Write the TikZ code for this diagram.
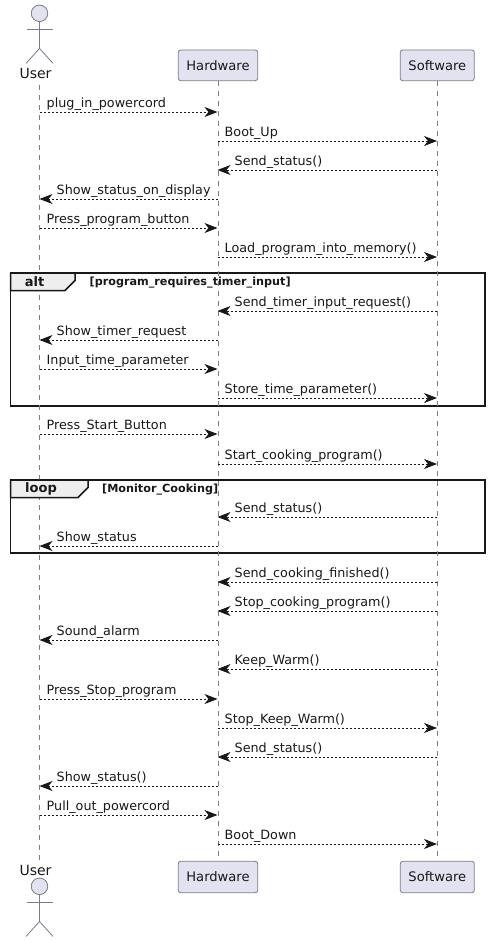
\documentclass[tikz,border=0pt]{standalone}
\usepackage{fontspec}
\setmainfont{DejaVu Sans}
\usetikzlibrary{arrows.meta}
\definecolor{pfill}{HTML}{E2E2F0}
\definecolor{pline}{HTML}{7B7B8A}
\definecolor{tabfill}{HTML}{EEEEEE}
\definecolor{ink}{HTML}{181818}
\tikzset{
  x=1pt,y=-1pt,
  partbox/.style={draw=pline,fill=pfill,line width=0.8pt,rounded corners=2.5pt,inner sep=0pt,font=\fontsize{13.1}{15}\selectfont,text=ink},
  lifeline/.style={draw=pline,line width=0.8pt,dash pattern=on 5pt off 5pt},
  msg/.style={draw=ink,line width=0.8pt,dash pattern=on 2pt off 2pt,-{Stealth[length=13pt,width=10pt,inset=4pt]}},
  msglabel/.style={font=\fontsize{12.75}{15}\selectfont,text=ink,inner sep=0pt,anchor=base west},
  actorlabel/.style={font=\fontsize{14}{16}\selectfont,text=ink,inner sep=0pt,anchor=base},
  actorline/.style={draw=pline,line width=0.8pt},
  framebox/.style={draw=ink,line width=1.5pt},
  tabshape/.style={draw=ink,fill=tabfill,line width=1.5pt},
  framekw/.style={font=\bfseries\fontsize{13}{15}\selectfont,text=ink,inner sep=0pt,anchor=base},
  framecond/.style={font=\bfseries\fontsize{11.2}{13}\selectfont,text=ink,inner sep=0pt,anchor=base west}
}
% \msgR{name}{from x}{to x}{y}{text}
\newcommand{\msgR}[5]{%
  \coordinate (#1a) at (#2,#4); \coordinate (#1b) at (#3,#4);
  \draw[msg] (#1a) -- (#1b);
  \node[msglabel] (#1t) at (#2+7,#4-5) {#5};}
\newcommand{\msgL}[5]{%
  \coordinate (#1a) at (#2,#4); \coordinate (#1b) at (#3,#4);
  \draw[msg] (#1a) -- (#1b);
  \node[msglabel] (#1t) at (#3+17,#4-5) {#5};}
\newcommand{\stickman}[3]{% name, x, head y
  \node[circle,draw=pline,fill=pfill,line width=0.8pt,minimum size=16.5pt,inner sep=0pt] (#1) at (#2,#3) {};
  \draw[actorline] (#1.south) -- ++(0,26.5) -- ++(-13.5,15);
  \draw[actorline] (#1.south) ++(0,26.5) -- ++(13.5,15);
  \draw[actorline] (#2-13,#3+16) -- (#2+13,#3+16);}
\begin{document}
\begin{tikzpicture}
\useasboundingbox (0,0) rectangle (489,942);
\fill[white] (0,0) rectangle (489,942);
\coordinate (ut) at (39.5,85); \coordinate (ub) at (39.5,862);
\node[partbox,minimum width=79.4pt,minimum height=30.7pt] (ht) at (218,65.35) {Hardware};
\node[partbox,minimum width=74pt,minimum height=30.7pt] (st) at (437.3,65.35) {Software};
\node[partbox,minimum width=79.4pt,minimum height=31.4pt] (hb) at (218,877) {Hardware};
\node[partbox,minimum width=74pt,minimum height=31.4pt] (sb) at (437.3,877) {Software};
% frames
\draw[framebox] (10.5,273) rectangle (485,406);
\draw[framebox] (10.5,480) rectangle (485,553);
% lifelines
\draw[lifeline] (ut) -- (ub);
\draw[lifeline] (ht) -- (hb);
\draw[lifeline] (st) -- (sb);
% frame tabs
\draw[tabshape] (10.5,273) -- (75,273) -- (75,280.5) -- (65,290.5) -- (10.5,290.5) -- cycle;
\node[framekw] (altk) at (34.5,286) {alt};
\node[framecond] (altc) at (89.5,285) {[program\_requires\_timer\_input]};
\draw[tabshape] (10.5,480) -- (88,480) -- (88,487.5) -- (78,497.5) -- (10.5,497.5) -- cycle;
\node[framekw] (loopk) at (41,492.5) {loop};
\node[framecond] (loopc) at (102,492) {[Monitor\_Cooking]};
% actors
\stickman{ah}{39.5}{13.3}
\node[actorlabel] (ual) at (35.5,78) {User};
\stickman{af}{39.5}{886.3}
\node[actorlabel] (ubl) at (35.5,875) {User};
% messages
\msgR{m1}{39.5}{217.5}{112}{plug\_in\_powercord}
\msgR{m2}{217.5}{437}{141}{Boot\_Up}
\msgL{m3}{437}{217.5}{170}{Send\_status()}
\msgL{m4}{217.5}{39.5}{199}{Show\_status\_on\_display}
\msgR{m5}{39.5}{217.5}{228}{Press\_program\_button}
\msgR{m6}{217.5}{437}{257}{Load\_program\_into\_memory()}
\msgL{m7}{437}{217.5}{311}{Send\_timer\_input\_request()}
\msgL{m8}{217.5}{39.5}{340}{Show\_timer\_request}
\msgR{m9}{39.5}{217.5}{369}{Input\_time\_parameter}
\msgR{m10}{217.5}{437}{398}{Store\_time\_parameter()}
\msgR{m11}{39.5}{217.5}{434}{Press\_Start\_Button}
\msgR{m12}{217.5}{437}{464}{Start\_cooking\_program()}
\msgL{m13}{437}{217.5}{517}{Send\_status()}
\msgL{m14}{217.5}{39.5}{546}{Show\_status}
\msgL{m15}{437}{217.5}{582}{Send\_cooking\_finished()}
\msgL{m16}{437}{217.5}{611}{Stop\_cooking\_program()}
\msgL{m17}{217.5}{39.5}{640}{Sound\_alarm}
\msgL{m18}{437}{217.5}{669}{Keep\_Warm()}
\msgR{m19}{39.5}{217.5}{699}{Press\_Stop\_program}
\msgR{m20}{217.5}{437}{728}{Stop\_Keep\_Warm()}
\msgL{m21}{437}{217.5}{757}{Send\_status()}
\msgL{m22}{217.5}{39.5}{786}{Show\_status()}
\msgR{m23}{39.5}{217.5}{815}{Pull\_out\_powercord}
\msgR{m24}{217.5}{437}{844}{Boot\_Down}
\end{tikzpicture}
\end{document}
